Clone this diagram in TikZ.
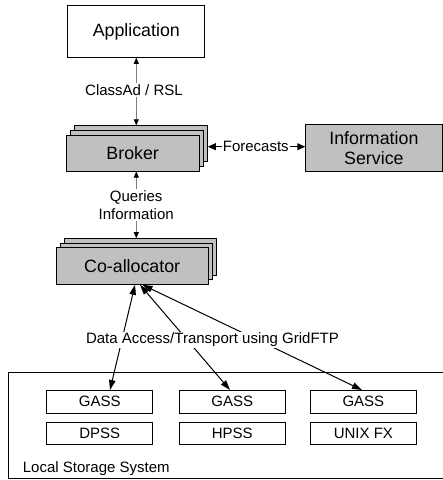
\documentclass[tikz,border=0pt]{standalone}
\usepackage{fontspec}
\setmainfont{Liberation Sans}
\usetikzlibrary{arrows.meta,calc}
\definecolor{boxgray}{RGB}{192,192,192}
\definecolor{linkgray}{RGB}{125,125,125}

\begin{document}
\begin{tikzpicture}[x=1pt,y=-1pt,
  big/.style={font=\fontsize{17.8}{20.6}\selectfont},
  small/.style={font=\fontsize{15}{18.3}\selectfont},
  plainbox/.style={draw=black,line width=1pt,fill=white,inner sep=0pt,align=center,big},
  graybox/.style={draw=black,line width=1pt,fill=boxgray,inner sep=0pt,align=center,big},
  brokerbox/.style={graybox,minimum width=133.3pt,minimum height=36pt},
  coalbox/.style={graybox,minimum width=152.3pt,minimum height=36.6pt},
  store/.style={draw=black,line width=0.9pt,fill=white,minimum width=106pt,minimum height=22.5pt,inner sep=0pt,small},
  thinlink/.style={draw=linkgray,line width=0.6pt,
    {Triangle[color=black,length=6pt,width=5pt]}-{Triangle[color=black,length=6pt,width=5pt]}},
  midlink/.style={draw=black,line width=1pt,
    {Triangle[length=8pt,width=7pt]}-{Triangle[length=8pt,width=7pt]}},
  heavylink/.style={draw=black,line width=1pt,
    {Triangle[length=10pt,width=6.5pt]}-{Triangle[length=10pt,width=6.5pt]}},
  tag/.style={fill=white,inner sep=1.5pt,align=center,small},
]
\useasboundingbox (0,0) rectangle (443,480);
\clip (0,0) rectangle (443,480);

% top level
\node[plainbox,minimum width=137.3pt,minimum height=51.3pt] (app) at (136.3,31.6) {Application};

% stacked brokers
\node[brokerbox] (brokerback) at (140.7,143.8) {};
\node[brokerbox] (brokermid) at (136.7,148.4) {};
\node[brokerbox] (broker) at (132.7,153) {Broker};

\node[graybox,minimum width=136.3pt,minimum height=47.4pt] (info) at (373.9,148) {Information\\Service};

% stacked co-allocators
\node[coalbox] (coalback) at (140.6,257.0) {};
\node[coalbox] (coalmid) at (136.4,261.5) {};
\node[coalbox] (coal) at (132.2,266) {Co-allocator};

% local storage system
\node[draw=black,line width=1pt,minimum width=444pt,minimum height=106.5pt,inner sep=0pt] (lss) at (230,425.25) {};
\node[store] (gass1) at (99.7,401.7) {GASS};
\node[store] (gass2) at (232.2,401.7) {GASS};
\node[store] (gass3) at (363.4,401.7) {GASS};
\node[store] (dpss) at (99.7,433.5) {DPSS};
\node[store] (hpss) at (232.2,433.5) {HPSS};
\node[store] (unix) at (363.4,433.5) {UNIX FX};
\node[small,anchor=west,inner sep=0pt] (lsslabel) at (22.7,468.3) {Local Storage System};

% connectors
\coordinate (fc) at (0,146.7);
\draw[thinlink] (app.south) -- (app.south |- brokerback.north);
\draw[thinlink] (app.south |- broker.south) -- (app.south |- coalback.north);
\draw[midlink] (brokerback.east |- fc) -- (info.west |- fc);

\draw[heavylink] ($(coal.south)+(2.8,0)$) -- ($(gass1.north)+(10.3,0)$);
\draw[heavylink] ($(coal.south)+(7.8,0)$) -- ($(gass2.north)+(-2.2,0)$);
\draw[heavylink] ($(coal.south)+(10.3,0)$) -- ($(gass3.north)+(-1.4,0)$);

% connector labels
\node[tag] (classad) at (134,90) {ClassAd / RSL};
\node[tag] (queries) at (136.2,204.9) {Queries\\Information};
\node[tag,inner sep=1pt] (forecasts) at (255.8,146.7) {Forecasts};
\node[tag] (gridftp) at (212.5,340) {Data Access/Transport using GridFTP};
\end{tikzpicture}
\end{document}
